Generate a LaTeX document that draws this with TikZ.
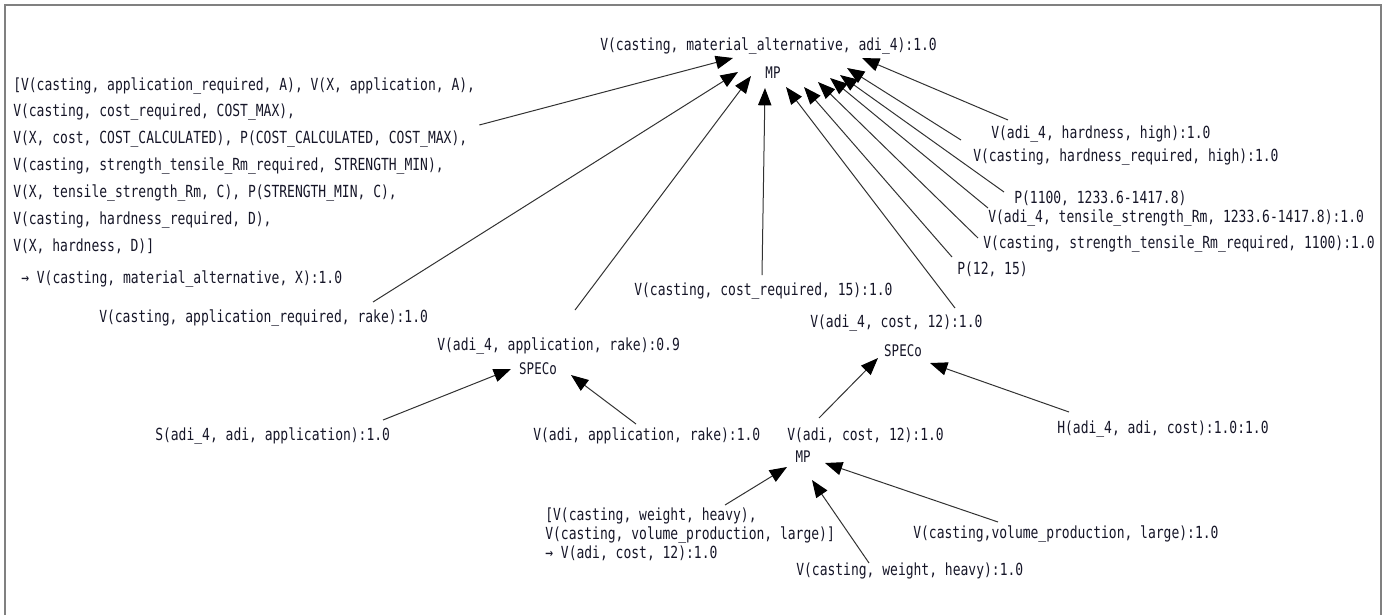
\documentclass[tikz,border=0pt]{standalone}
\usepackage{fontspec}
\usepackage{tikz}
\usetikzlibrary{calc,arrows.meta}
\newfontfamily\gfont[FakeStretch=0.78]{DejaVu Sans Mono}
\definecolor{txt}{RGB}{22,22,40}
\definecolor{edge}{RGB}{50,50,50}

\begin{document}
\begin{tikzpicture}[x=0.75pt,y=-0.75pt,
    lbl/.style={anchor=west,inner sep=0pt,text=txt,font={\gfont\fontsize{12.5}{14}\selectfont}},
    op/.style={inner sep=0pt,text=txt,font={\gfont\fontsize{12}{14}\selectfont}},
    arr/.style={draw=edge,line width=0.75pt,-{Triangle[length=13pt,width=10pt,color=black]}}]
    \useasboundingbox (0,0) rectangle (1387,615);
    \draw[gray,line width=1.5pt] (4.5,615) -- (4.5,4.5) -- (1380.5,4.5) -- (1380.5,615);
    % top rule
    \node[lbl] (goal) at (600,46) {V(casting, material\_alternative, adi\_4):1.0};
    \node[op] (mp1) at (773,73) {MP};
    \node[lbl,anchor=north west,align=left,font={\gfont\fontsize{12.5}{20.2}\selectfont}] (rule1) at (13,77)
        {[V(casting, application\_required, A), V(X, application, A),\\
         V(casting, cost\_required, COST\_MAX),\\
         V(X, cost, COST\_CALCULATED), P(COST\_CALCULATED, COST\_MAX),\\
         V(casting, strength\_tensile\_Rm\_required, STRENGTH\_MIN),\\
         V(X, tensile\_strength\_Rm, C), P(STRENGTH\_MIN, C),\\
         V(casting, hardness\_required, D),\\
         V(X, hardness, D)]\\[3.5pt]
         \hspace{6pt}→ V(casting, material\_alternative, X):1.0};
    \node[lbl] (appreq) at (99,318) {V(casting, application\_required, rake):1.0};
    \node[lbl] (adi4app) at (437,346) {V(adi\_4, application, rake):0.9};
    \node[lbl] (costreq) at (634,291) {V(casting, cost\_required, 15):1.0};
    \node[lbl] (adi4cost) at (810,323) {V(adi\_4, cost, 12):1.0};
    \node[lbl] (p1215) at (957,269) {P(12, 15)};
    \node[lbl] (strreq) at (983,244) {V(casting, strength\_tensile\_Rm\_required, 1100):1.0};
    \node[lbl] (adi4str) at (988,218) {V(adi\_4, tensile\_strength\_Rm, 1233.6-1417.8):1.0};
    \node[lbl] (p1100) at (1014,198) {P(1100, 1233.6-1417.8)};
    \node[lbl] (hardreq) at (973,157) {V(casting, hardness\_required, high):1.0};
    \node[lbl] (adi4hard) at (991,134) {V(adi\_4, hardness, high):1.0};
    % application similarity
    \node[op] (speco1) at (538,369) {SPECo};
    \node[lbl] (simapp) at (155,436) {S(adi\_4, adi, application):1.0};
    \node[lbl] (adiapp) at (533,436) {V(adi, application, rake):1.0};
    % cost similarity
    \node[op] (speco2) at (903,351) {SPECo};
    \node[lbl] (adicost) at (787,435) {V(adi, cost, 12):1.0};
    \node[lbl] (hcost) at (1057,429) {H(adi\_4, adi, cost):1.0:1.0};
    % cost rule
    \node[op] (mp2) at (803,457) {MP};
    \node[lbl,anchor=north west,align=left,font={\gfont\fontsize{12.5}{13.9}\selectfont}] (rule2) at (545,508)
        {[V(casting, weight, heavy),\\
         V(casting, volume\_production, large)]\\
         → V(adi, cost, 12):1.0};
    \node[lbl] (volprod) at (913,534) {V(casting,volume\_production, large):1.0};
    \node[lbl] (weight) at (796,571) {V(casting, weight, heavy):1.0};
    % arrows into the top MP
    \draw[arr] ($(rule1.north east)+(4,48)$) -- ($(mp1)+(-40,-15)$);
    \draw[arr] ($(appreq.west)+(274,-16)$) -- ($(mp1)+(-35,-1)$);
    \draw[arr] ($(adi4app.west)+(138,-36)$) -- ($(mp1)+(-22,3)$);
    \draw[arr] ($(costreq.west)+(128,-16)$) -- ($(mp1)+(-8,15)$);
    \draw[arr] ($(adi4cost.west)+(145,-15)$) -- ($(mp1)+(13,14)$);
    \draw[arr] ($(p1215.west)+(-5,-12)$) -- ($(mp1)+(31,14)$);
    \draw[arr] ($(strreq.west)+(-5,-6)$) -- ($(mp1)+(45,9)$);
    \draw[arr] ($(adi4str.west)+(0,-10)$) -- ($(mp1)+(57,5)$);
    \draw[arr] ($(p1100.west)+(-10,-6)$) -- ($(mp1)+(67,2)$);
    \draw[arr] ($(hardreq.west)+(-12,-17)$) -- ($(mp1)+(74,-5)$);
    \draw[arr] ($(adi4hard.west)+(17,-14)$) -- ($(mp1)+(89,-15)$);
    % arrows into the SPECo nodes
    \draw[arr] ($(simapp.west)+(228,-16)$) -- ($(speco1)+(-27,0)$);
    \draw[arr] ($(adiapp.west)+(103,-12)$) -- ($(speco1)+(33,6)$);
    \draw[arr] ($(adicost.west)+(32,-17)$) -- ($(speco2)+(-25,7)$);
    \draw[arr] ($(hcost.west)+(12,-17)$) -- ($(speco2)+(27,12)$);
    % arrows into the lower MP
    \draw[arr] ($(rule2.north west)+(180,-3)$) -- ($(mp2)+(-16,10)$);
    \draw[arr] ($(weight.west)+(73,-8)$) -- ($(mp2)+(9,23)$);
    \draw[arr] ($(volprod.west)+(85,-12)$) -- ($(mp2)+(22,6)$);
\end{tikzpicture}
\end{document}
